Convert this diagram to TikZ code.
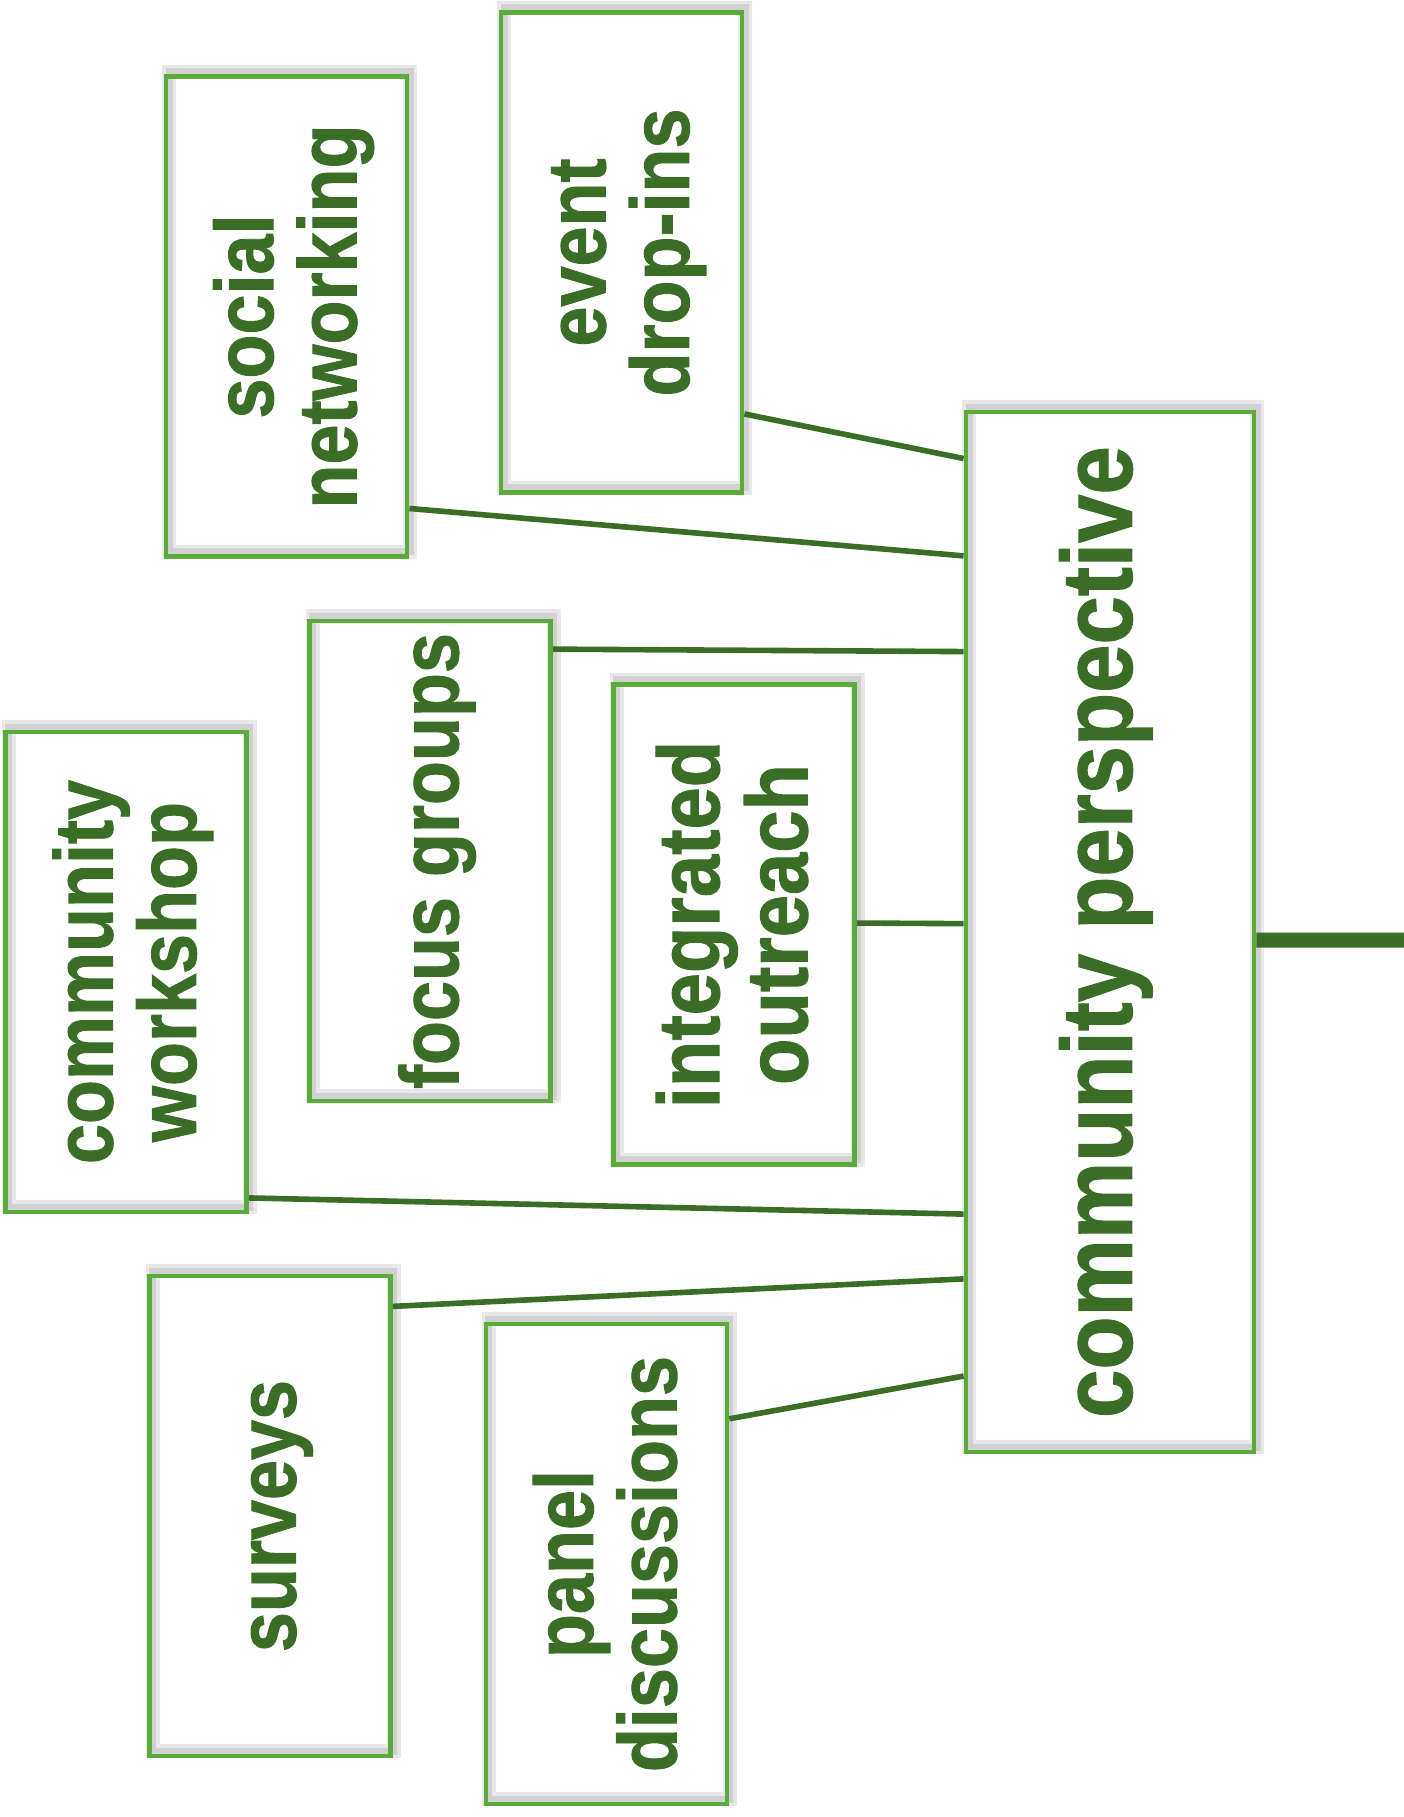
\documentclass[tikz,border=0pt]{standalone}
\usepackage{fontspec}
\setmainfont{Liberation Sans}
\newfontfamily\lblfont{Liberation Sans Bold}[FakeBold=1.2]
\usetikzlibrary{calc}
\definecolor{boxgreen}{RGB}{90,170,60}
\definecolor{txtgreen}{RGB}{58,110,38}
\newcommand{\vlab}[2][5pt]{\rotatebox{90}{\raisebox{-#1}[\height][\depth]{\scalebox{1}[1.15]{\begin{tabular}{@{}c@{}}#2\end{tabular}}}}}
\begin{document}
\begin{tikzpicture}[x=0.5pt,y=-0.5pt,
  shadowed/.style={
    preaction={draw=black!9, line width=7pt, transform canvas={xshift=1.5pt,yshift=2.5pt}},
    preaction={draw=black!18, line width=3.5pt, transform canvas={xshift=1.5pt,yshift=2.5pt}}},
  box/.style={shadowed, draw=boxgreen, line width=2.4pt, minimum width=120.5pt, minimum height=240pt,
    inner sep=0pt, text=txtgreen, font=\lblfont\fontsize{36}{34}\selectfont},
  bigbox/.style={box, minimum width=144pt, minimum height=520pt, font=\lblfont\fontsize{43.5}{42}\selectfont},
  conn/.style={draw=txtgreen, line width=2.8pt}]
\useasboundingbox (0,0) rectangle (1404,1817);

\node[bigbox] (cp) at (1110,932) {\vlab[0pt]{community perspective}};
\node[box] (sn) at (286.5,316.5) {\vlab{social\\networking}};
\node[box] (ev) at (621.5,252.5) {\vlab{event\\drop-ins}};
\node[box] (fg) at (430,861) {\vlab{focus groups}};
\node[box, font=\lblfont\fontsize{38}{36}\selectfont] (io) at (734,924.5) {\vlab{integrated\\outreach}};
\node[box] (cw) at (126,972) {\vlab{community\\workshop}};
\node[box] (sv) at (270,1516) {\vlab{surveys}};
\node[box] (pd) at (606.4,1564) {\vlab{panel\\discussions}};

\coordinate (bar) at (1404,940);

\draw[conn] ($(ev.north east)!0.833!(ev.south east)$) -- ($(cp.north west)!0.0468!(cp.south west)$);
\draw[conn] ($(sn.north east)!0.896!(sn.south east)$) -- ($(cp.north west)!0.140!(cp.south west)$);
\draw[conn] ($(fg.north east)!0.063!(fg.south east)$) -- ($(cp.north west)!0.2316!(cp.south west)$);
\draw[conn] ($(io.north east)!0.497!(io.south east)$) -- ($(cp.north west)!0.492!(cp.south west)$);
\draw[conn] ($(cw.north east)!0.966!(cw.south east)$) -- ($(cp.north west)!0.770!(cp.south west)$);
\draw[conn] ($(sv.north east)!0.0676!(sv.south east)$) -- ($(cp.north west)!0.832!(cp.south west)$);
\draw[conn] ($(pd.north east)!0.2005!(pd.south east)$) -- ($(cp.north west)!0.925!(cp.south west)$);
\draw[draw=txtgreen, line width=7.5pt] ($(cp.north east)!0.5077!(cp.south east)$) -- (bar);
\end{tikzpicture}
\end{document}
